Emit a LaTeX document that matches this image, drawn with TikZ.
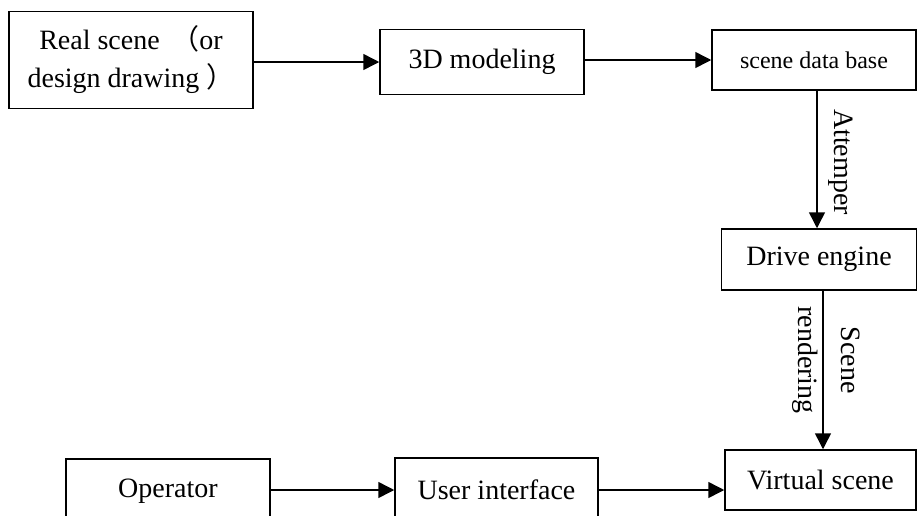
\documentclass[tikz,border=0pt]{standalone}
\usepackage{fontspec}
\setmainfont{Liberation Serif}
\newfontfamily\cjk{Noto Sans CJK SC}
\usetikzlibrary{arrows.meta}
\begin{document}
\begin{tikzpicture}[x=0.5pt,y=-0.5pt,
  box/.style={draw,line width=0.75pt,inner sep=0pt,align=center,font=\fontsize{14}{19}\selectfont},
  arr/.style={line width=0.75pt,-{Triangle[length=8pt,width=8pt]}},
  lbl/.style={rotate=-90,inner sep=0pt,align=center,font=\fontsize{14}{21.5}\selectfont}]
\useasboundingbox (0,0) rectangle (917,515);
\node[box,minimum width=122pt,minimum height=48.5pt] (rs) at (131,60) {Real scene \,{\cjk （}or\\design drawing {\cjk ）}};
\node[box,minimum width=102pt,minimum height=32.5pt] (md) at (482,62) {3D modeling};
\node[box,minimum width=102pt,minimum height=30pt,font=\fontsize{12}{14}\selectfont] (db) at (814,60) {scene data base};
\node[box,minimum width=97.5pt,minimum height=30.5pt] (de) at (819,259.5) {Drive engine};
\node[box,minimum width=95.5pt,minimum height=30pt] (vs) at (820.5,480) {Virtual scene};
\node[box,minimum width=102pt,minimum height=32pt] (op) at (168,491) {Operator};
\node[box,minimum width=101.5pt,minimum height=32pt] (ui) at (496.5,490) {User interface};
\draw[arr] (rs.east |- md.west) -- (md.west);
\draw[arr] (md.east |- db.west) -- (db.west);
\coordinate (a1) at ([xshift=1.5pt]db.south);
\draw[arr] (a1) -- (a1 |- de.north);
\coordinate (a2) at ([xshift=2pt]de.south);
\draw[arr] (a2) -- (a2 |- vs.north);
\draw[arr] (op.east |- ui.east) -- (ui.west);
\draw[arr] (ui.east) -- (ui.east -| vs.west);
\node[lbl] (lat) at (841,162) {Attemper};
\node[lbl] (lsr) at (826,360) {Scene\\rendering};
\end{tikzpicture}
\end{document}
